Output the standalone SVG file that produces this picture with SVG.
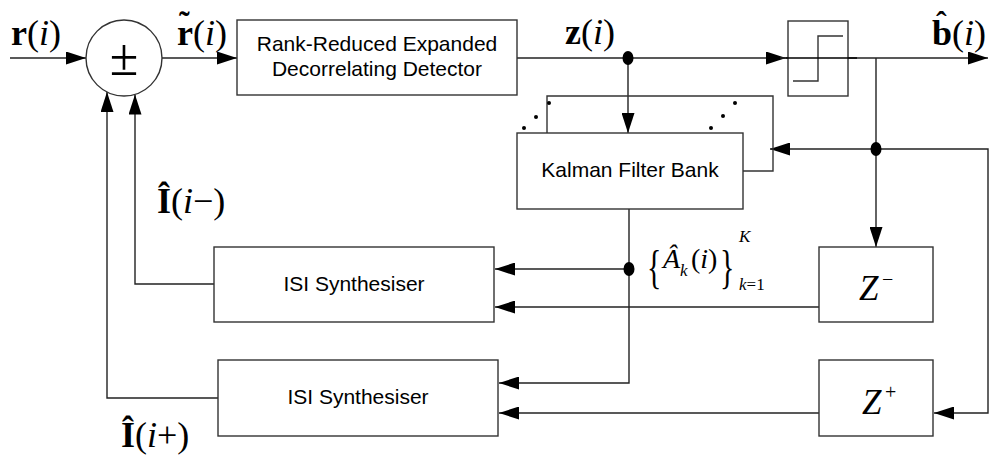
<svg xmlns="http://www.w3.org/2000/svg" width="990" height="459" viewBox="0 0 990 459">
<defs>
<marker id="ah" markerUnits="userSpaceOnUse" markerWidth="20" markerHeight="13" refX="20" refY="6.5" orient="auto">
<path d="M0,0 L20,6.5 L0,13 z" fill="#000"/>
</marker>
<style>
.box{fill:#fff;stroke:#333;stroke-width:1.4}
.ln{fill:none;stroke:#333;stroke-width:1.4}
.ar{fill:none;stroke:#222;stroke-width:1.4;marker-end:url(#ah)}
.t{font-family:"Liberation Sans",Arial,sans-serif;font-size:21px;fill:#000;text-anchor:middle}
.m{font-family:"Liberation Serif","Times New Roman",serif;fill:#000}
.dot{fill:#000}
</style>
</defs>
<rect width="990" height="459" fill="#fff"/>

<g id="connectors">
<path class="ar" d="M10,58 H86"/>
<path class="ar" d="M162,58 H237"/>
<path class="ar" d="M517,58 H786"/>
<path class="ar" d="M780,58 H988"/>
<path class="ar" d="M628,58 V133"/>
<path class="ar" d="M876,58 V247"/>
<path class="ar" d="M876,149 H988 V413 H934"/>
<path class="ar" d="M876,149 H770"/>
<path class="ar" d="M629,209 V383 H499"/>
<path class="ar" d="M629,269 H495"/>
<path class="ar" d="M819,307 H495"/>
<path class="ar" d="M819,413 H499"/>
<path class="ar" d="M214,284 H135 V94.5"/>
<path class="ar" d="M218,398 H107 V92"/>
<ellipse class="dot" cx="628" cy="58" rx="5.5" ry="7"/>
<ellipse class="dot" cx="876" cy="149" rx="5.5" ry="7"/>
<ellipse class="dot" cx="629" cy="269" rx="5.5" ry="7"/>
</g>

<g id="sum">
<circle cx="124" cy="58" r="38" fill="#fff" stroke="#333" stroke-width="1.4"/>
<text class="m" x="124" y="75" font-size="52" text-anchor="middle">±</text>
</g>

<g id="detector">
<rect class="box" x="237" y="20" width="280" height="75"/>
<text class="t" x="377" y="51">Rank-Reduced Expanded</text>
<text class="t" x="377" y="76">Decorrelating Detector</text>
</g>

<g id="threshold">
<rect class="box" x="788" y="21" width="60" height="75" fill="none"/>
<path class="ln" d="M793,81 H818 V36 H843"/>
<path d="M786,58 H857" stroke="#000" stroke-width="1.4"/>
</g>

<g id="kalman-bank">
<path class="ln" d="M547,133 V96 H773 V171 H743"/>
<circle class="dot" cx="549" cy="103" r="2"/>
<circle class="dot" cx="536" cy="117" r="2"/>
<circle class="dot" cx="524" cy="128" r="2"/>
<circle class="dot" cx="735" cy="103" r="2"/>
<circle class="dot" cx="723" cy="116" r="2"/>
<circle class="dot" cx="711" cy="128" r="2"/>
<rect class="box" x="517" y="133" width="226" height="76"/>
<text class="t" x="630" y="177">Kalman Filter Bank</text>
</g>

<g id="isi1">
<rect class="box" x="214" y="247" width="280" height="75"/>
<text class="t" x="354" y="291">ISI Synthesiser</text>
</g>

<g id="isi2">
<rect class="box" x="218" y="360" width="280" height="76"/>
<text class="t" x="358" y="404">ISI Synthesiser</text>
</g>

<g id="zminus">
<rect class="box" x="819" y="247" width="114" height="75"/>
<text class="m" x="859" y="300" font-size="35" font-style="italic">Z</text>
<text class="m" x="882" y="286" font-size="20">−</text>
</g>

<g id="zplus">
<rect class="box" x="819" y="360" width="114" height="76"/>
<text class="m" x="862" y="414" font-size="35" font-style="italic">Z</text>
<text class="m" x="885" y="399" font-size="20">+</text>
</g>

<g id="labels">
<text class="m" x="11" y="45" font-size="36"><tspan font-weight="bold">r</tspan>(<tspan font-style="italic">i</tspan>)</text>
<text class="m" x="177" y="45" font-size="36"><tspan font-weight="bold">r</tspan>(<tspan font-style="italic">i</tspan>)</text>
<text class="m" x="179" y="33" font-size="32" font-weight="bold">˜</text>
<text class="m" x="565" y="44" font-size="36"><tspan font-weight="bold">z</tspan>(<tspan font-style="italic">i</tspan>)</text>
<text class="m" x="932" y="45" font-size="36"><tspan font-weight="bold">b</tspan>(<tspan font-style="italic">i</tspan>)</text>
<text class="m" x="936" y="33" font-size="32" font-weight="bold">ˆ</text>
<text class="m" x="157" y="213" font-size="36"><tspan font-weight="bold">Î</tspan>(<tspan font-style="italic">i</tspan>−)</text>
<text class="m" x="121" y="447" font-size="36"><tspan font-weight="bold">Î</tspan>(<tspan font-style="italic">i</tspan>+)</text>
<text class="m" transform="translate(647,283) scale(0.65,1)" font-size="46">{</text>
<text class="m" x="663" y="268" font-size="28" font-style="italic">Â</text>
<text class="m" x="680" y="276" font-size="17" font-style="italic">k</text>
<text class="m" x="691" y="268" font-size="28">(<tspan font-style="italic">i</tspan>)</text>
<text class="m" transform="translate(720,283) scale(0.65,1)" font-size="46">}</text>
<text class="m" x="739" y="242" font-size="17" font-style="italic">K</text>
<text class="m" x="739" y="290" font-size="17"><tspan font-style="italic">k</tspan>=1</text>
</g>
</svg>
